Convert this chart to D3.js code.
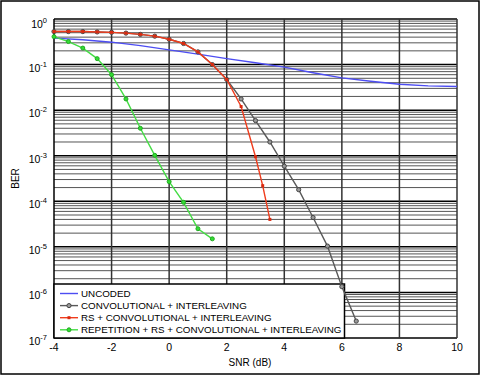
<!DOCTYPE html>
<html>
<head>
<meta charset="utf-8">
<script src="https://cdn.jsdelivr.net/npm/d3@7"></script>
<style>
  body { margin: 0; background: #fff; }
  text { font-family: "Liberation Sans", Arial, sans-serif; fill: #000; }
</style>
</head>
<body>
<svg id="chart"></svg>
<script>
// values
const snrUncoded = [-4, -3, -2, -1, 0, 1, 2, 3, 4, 5, 6, 7, 8, 9, 10];
const berUncoded = [0.38, 0.35, 0.31, 0.26, 0.21, 0.17, 0.135, 0.11, 0.088, 0.066, 0.051, 0.043, 0.037, 0.034, 0.033];

const snrConv = [-4, -3.5, -3, -2.5, -2, -1.5, -1, -0.5, 0, 0.5, 1, 1.5, 2, 2.5, 3, 3.5, 4, 4.5, 5, 5.5, 6, 6.5];
const berConv = [0.53, 0.53, 0.53, 0.52, 0.51, 0.49, 0.46, 0.42, 0.36, 0.29, 0.19, 0.10, 0.047,
                 0.0176, 0.0059, 0.0020, 5.9e-4, 1.8e-4, 4.4e-5, 1.04e-5, 1.34e-6, 2.35e-7];

const snrRs = [-4, -3.5, -3, -2.5, -2, -1.5, -1, -0.5, 0, 0.5, 1, 1.5, 2, 2.5, 3, 3.25, 3.5];
const berRs = [0.53, 0.53, 0.53, 0.52, 0.51, 0.49, 0.46, 0.42, 0.36, 0.29, 0.19, 0.10, 0.047,
               0.012, 9.5e-4, 2.2e-4, 4.0e-5];

const snrRep = [-4, -3.5, -3, -2.5, -2, -1.5, -1, -0.5, 0, 0.5, 1, 1.5];
const berRep = [0.41, 0.32, 0.23, 0.135, 0.060, 0.0176, 0.0040, 1.02e-3, 2.7e-4, 9.5e-5, 2.5e-5, 1.5e-5];

const xTicks = [-4, -2, 0, 2, 4, 6, 8, 10];
const yExponents = [0, -1, -2, -3, -4, -5, -6, -7];

const seriesNames = [
    "UNCODED",
    "CONVOLUTIONAL + INTERLEAVING",
    "RS + CONVOLUTIONAL + INTERLEAVING",
    "REPETITION + RS + CONVOLUTIONAL + INTERLEAVING"
];

const width = 480, height = 375;
const plotLeft = 54, plotRight = 457, plotTop = 19, plotBottom = 338;

const svg = d3.select("#chart")
    .attr("width", width)
    .attr("height", height);

// outer frame
svg.append("rect")
    .attr("x", 1).attr("y", 1)
    .attr("width", width - 2).attr("height", height - 2)
    .attr("fill", "#fff")
    .attr("stroke", "#000")
    .attr("stroke-width", 1.5);

const x = d3.scaleLinear().domain([-4, 10]).range([plotLeft, plotRight]);
const y = d3.scaleLog().domain([1e-7, 1]).range([plotBottom, plotTop]);

// minor horizontal grid
const minor = [];
yExponents.slice(0, -1).forEach(e => {
    for (let m = 2; m <= 9; m++) minor.push(m * Math.pow(10, e - 1));
});
svg.append("g").selectAll("line")
    .data(minor)
    .enter().append("line")
    .attr("x1", plotLeft).attr("x2", plotRight)
    .attr("y1", d => y(d)).attr("y2", d => y(d))
    .attr("stroke", "#555")
    .attr("stroke-width", 1);

// decade lines
svg.append("g").selectAll("line")
    .data(yExponents)
    .enter().append("line")
    .attr("x1", plotLeft).attr("x2", plotRight)
    .attr("y1", d => y(Math.pow(10, d))).attr("y2", d => y(Math.pow(10, d)))
    .attr("stroke", "#000")
    .attr("stroke-width", 1.5);

// vertical grid
svg.append("g").selectAll("line")
    .data(xTicks)
    .enter().append("line")
    .attr("x1", d => x(d)).attr("x2", d => x(d))
    .attr("y1", plotTop).attr("y2", plotBottom)
    .attr("stroke", d => (d === -4 ? "#000" : "#333"))
    .attr("stroke-width", 1.5);

// y tick labels: 10^n
const yLab = svg.append("g").selectAll("text")
    .data(yExponents)
    .enter().append("text")
    .attr("x", 47)
    .attr("y", d => y(Math.pow(10, d)) + (d === 0 ? 9 : 7))
    .attr("text-anchor", "end")
    .style("font-size", "10.5px");
yLab.append("tspan").text("10");
yLab.append("tspan")
    .attr("dy", -5)
    .style("font-size", "7.5px")
    .text(d => d);

// x tick labels
svg.append("g").selectAll("text")
    .data(xTicks)
    .enter().append("text")
    .attr("x", d => x(d))
    .attr("y", 351)
    .attr("text-anchor", "middle")
    .style("font-size", "10.5px")
    .text(d => d);

svg.append("text")
    .attr("x", 250).attr("y", 366)
    .attr("text-anchor", "middle")
    .style("font-size", "10px")
    .text("SNR (dB)");

svg.append("text")
    .attr("transform", `translate(19,${(plotTop + plotBottom) / 2}) rotate(-90)`)
    .attr("text-anchor", "middle")
    .style("font-size", "10px")
    .text("BER");

// legend
const styles = [
    { color: "#4d4df2", marker: null },
    { color: "#595959", marker: "circle" },
    { color: "#f03c1c", marker: "square" },
    { color: "#44dd44", marker: "green" }
];

const legend = svg.append("g");
const legendBox = legend.append("rect")
    .attr("x", plotLeft).attr("y", 284)
    .attr("height", plotBottom - 284)
    .attr("fill", "#fff")
    .attr("stroke", "#000")
    .attr("stroke-width", 1.5);

const rows = legend.selectAll(".row")
    .data(seriesNames)
    .enter().append("g")
    .attr("class", "row")
    .attr("transform", (d, i) => `translate(0,${293.5 + i * 12.1})`);

rows.append("line")
    .attr("x1", 60).attr("x2", 78)
    .attr("stroke", (d, i) => styles[i].color)
    .attr("stroke-width", 1.4);

const labels = rows.append("text")
    .attr("x", 81)
    .attr("dy", "0.35em")
    .style("font-size", "9.8px")
    .text(d => d);

let maxW = 0;
labels.each(function() { maxW = Math.max(maxW, this.getComputedTextLength()); });
legendBox.attr("width", 81 + maxW + 3 - plotLeft);

function drawMarkers(g, xs, ys, kind) {
    const pts = xs.map((v, i) => [x(v), y(ys[i])]);
    if (kind === "circle") {
        g.selectAll("circle").data(pts).enter().append("circle")
            .attr("cx", d => d[0]).attr("cy", d => d[1]).attr("r", 2.1)
            .attr("fill", "#999").attr("stroke", "#444").attr("stroke-width", 1);
    } else if (kind === "square") {
        g.selectAll("rect").data(pts).enter().append("rect")
            .attr("x", d => d[0] - 1.5).attr("y", d => d[1] - 1.5)
            .attr("width", 3).attr("height", 3)
            .attr("fill", "#d82a10");
    } else if (kind === "green") {
        g.selectAll("circle").data(pts).enter().append("circle")
            .attr("cx", d => d[0]).attr("cy", d => d[1]).attr("r", 2)
            .attr("fill", "#33dd33").attr("stroke", "#22aa22").attr("stroke-width", 1);
    }
}

// legend markers
rows.each(function(d, i) {
    const g = d3.select(this);
    if (i === 1) g.append("circle").attr("cx", 69).attr("r", 2.1)
        .attr("fill", "#999").attr("stroke", "#444");
    if (i === 2) g.append("rect").attr("x", 67.5).attr("y", -1.5)
        .attr("width", 3).attr("height", 3).attr("fill", "#d82a10");
    if (i === 3) g.append("circle").attr("cx", 69).attr("r", 2)
        .attr("fill", "#33dd33").attr("stroke", "#22aa22");
});

// data lines
const line = d3.line()
    .x(d => x(d[0]))
    .y(d => y(d[1]));

const series = [
    [snrUncoded, berUncoded],
    [snrConv, berConv],
    [snrRs, berRs],
    [snrRep, berRep]
];

series.forEach((s, i) => {
    const g = svg.append("g");
    g.append("path")
        .datum(s[0].map((v, j) => [v, s[1][j]]))
        .attr("d", line)
        .attr("fill", "none")
        .attr("stroke", styles[i].color)
        .attr("stroke-width", 1.4);
    drawMarkers(g, s[0], s[1], styles[i].marker);
});
</script>
</body>
</html>
